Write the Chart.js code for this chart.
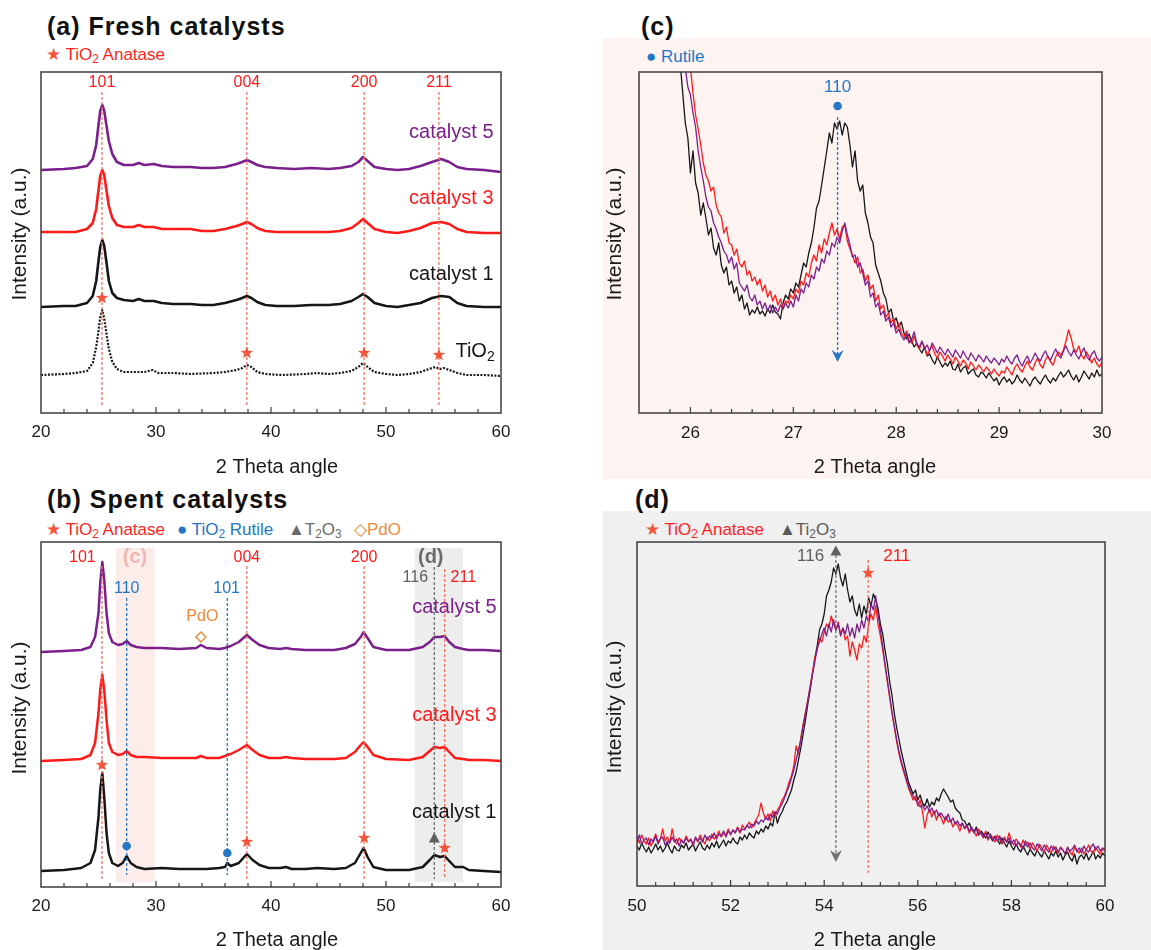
<!DOCTYPE html>
<html>
<head>
<meta charset="utf-8">
<script src="https://cdn.jsdelivr.net/npm/chart.js@4.4.1/dist/chart.umd.min.js"></script>
<style>
  body { margin: 0; width: 1151px; height: 950px; background: #fff; position: relative; overflow: hidden;
         font-family: "Liberation Sans", Arial, Helvetica, sans-serif; }
  .abs { position: absolute; white-space: nowrap; }
  canvas { position: absolute; }
  .head { font-weight: bold; font-size: 25px; letter-spacing: 1px; line-height: 28px; color: #111; }
  .key { font-size: 17px; line-height: 20px; }
  .sym { font-size: 17px; }
  sub { font-size: 0.7em; vertical-align: -0.25em; line-height: 0; }
</style>
</head>
<body>
<div class="abs" style="left:603px;top:38px;width:548px;height:441px;background:#fdf3f1"></div>
<div class="abs" style="left:603px;top:511px;width:548px;height:439px;background:#f0f0f0"></div>

<div class="abs head" style="left:47px;top:12px">(a) Fresh catalysts</div>
<div class="abs key" style="left:46px;top:45px;color:#ff1f1f"><span class="sym" style="color:#f4553b">★</span> TiO<sub>2</sub> Anatase</div>

<div class="abs head" style="left:47px;top:485px">(b) Spent catalysts</div>
<div class="abs key" style="left:46px;top:520px;color:#ff1f1f"><span class="sym" style="color:#f4553b">★</span> TiO<sub>2</sub> Anatase</div>
<div class="abs key" style="left:177px;top:520px;color:#2377c6"><span class="sym">●</span> TiO<sub>2</sub> Rutile</div>
<div class="abs key" style="left:288px;top:520px;color:#6a6a6a"><span class="sym">▲</span>T<sub>2</sub>O<sub>3</sub></div>
<div class="abs key" style="left:354px;top:520px;color:#ef8a3c"><span class="sym">◇</span>PdO</div>

<div class="abs head" style="left:641px;top:12px">(c)</div>
<div class="abs key" style="left:646px;top:47px;color:#2377c6"><span class="sym">●</span> Rutile</div>

<div class="abs head" style="left:635px;top:485px">(d)</div>
<div class="abs key" style="left:645px;top:520px;color:#ff1f1f"><span class="sym" style="color:#f4553b">★</span> TiO<sub>2</sub> Anatase</div>
<div class="abs key" style="left:779px;top:520px;color:#5a5a5a"><span class="sym">▲</span>Ti<sub>2</sub>O<sub>3</sub></div>

<canvas id="xrdFresh" width="560" height="420" style="left:0;top:60px"></canvas>
<canvas id="xrdSpent" width="560" height="470" style="left:0;top:480px"></canvas>
<canvas id="xrdRutile" width="548" height="441" style="left:603px;top:38px"></canvas>
<canvas id="xrdTi2O3" width="548" height="439" style="left:603px;top:511px"></canvas>

<script>
const FONT = '"Liberation Sans", Arial, Helvetica, sans-serif'

// ---- (a) fresh catalysts, stacked patterns (a.u.) ----
const FRESH_2THETA = [20, 22, 23, 24, 24.5, 24.8, 25.0, 25.15, 25.33, 25.5, 25.7, 25.9, 26.2, 26.6, 27.2, 28.0, 28.5, 29.0, 29.8, 30.5, 31.5, 33.0, 34.0, 35.0, 36.0, 37.0, 37.5, 37.9, 38.3, 38.8, 39.5, 40.5, 42.0, 43.5, 45.0, 46.0, 47.0, 47.6, 48.0, 48.4, 49.0, 50.0, 51.0, 52.0, 53.0, 54.0, 54.8, 55.5, 56.2, 57.0, 58.5, 60.0]
const FRESH_CAT5 = [243, 244, 245, 247, 254, 268, 288, 302, 308, 302, 287, 272, 259, 251, 248, 248, 250, 248, 249, 247, 246, 246, 245, 245, 246, 249, 251, 253, 251, 248, 246, 245, 244, 245, 244, 245, 247, 251, 256, 252, 246, 244, 243, 244, 247, 251, 254, 251, 246, 244, 243, 241]
const FRESH_CAT3 = [181, 181, 181, 184, 190, 204, 223, 237, 243, 238, 222, 207, 195, 188, 186, 186, 188, 186, 186, 184, 184, 184, 182, 182, 184, 187, 189, 191, 189, 185, 182, 181, 181, 181, 181, 182, 185, 190, 194, 190, 184, 181, 180, 182, 185, 190, 191, 189, 184, 181, 180, 180]
const FRESH_CAT1 = [106, 107, 107, 110, 117, 132, 152, 166, 173, 167, 150, 132, 120, 115, 113, 112, 114, 112, 112, 110, 109, 109, 108, 108, 110, 113, 115, 117, 115, 111, 108, 107, 107, 108, 108, 109, 112, 116, 119, 116, 110, 107, 106, 108, 110, 115, 117, 116, 110, 107, 106, 106]
const TIO2_2THETA = [20, 22, 23, 24, 24.5, 24.8, 25.0, 25.15, 25.33, 25.5, 25.7, 25.9, 26.2, 26.6, 27.2, 28.0, 29.0, 29.7, 30.2, 31.5, 33.0, 35.0, 36.0, 37.0, 37.5, 37.9, 38.3, 38.8, 39.5, 41.0, 43.0, 44.0, 45.0, 46.0, 47.0, 47.6, 48.0, 48.4, 49.0, 50.0, 51.0, 52.0, 53.0, 54.0, 54.3, 54.7, 55.0, 55.5, 56.2, 57.0, 58.5, 60.0]
const TIO2_BARE = [38, 39, 40, 42, 50, 66, 82, 96, 103, 94, 79, 64, 51, 44, 41, 41, 41, 43, 40, 40, 39, 40, 41, 43, 45, 48, 46, 41, 39, 38, 39, 40, 39, 40, 42, 46, 50, 46, 41, 39, 38, 39, 41, 45, 46, 44, 45, 43, 40, 38, 38, 37]
const FRESH_PEAKS = [25.3, 37.9, 48.1, 54.6]
const FRESH_HKL = ['101', '004', '200', '211']

// ---- (b) spent catalysts ----
const SPENT_2THETA = [20, 22, 23.5, 24.3, 24.7, 25.0, 25.15, 25.33, 25.5, 25.7, 25.9, 26.2, 26.7, 27.1, 27.45, 27.8, 28.3, 29.0, 30.5, 32.0, 33.5, 33.9, 34.4, 35.5, 36.0, 36.2, 36.5, 37.2, 37.9, 38.4, 39.0, 39.8, 40.8, 41.3, 41.8, 43.0, 44.0, 45.5, 46.5, 47.3, 47.8, 48.05, 48.4, 48.9, 50.0, 52.0, 53.2, 53.8, 54.2, 54.7, 55.1, 55.5, 56.0, 56.7, 57.2, 58.5, 60.0]
const SPENT_CAT5 = [235, 236, 237, 240, 250, 274, 304, 325, 307, 274, 254, 245, 242, 243, 246, 242, 240, 239, 239, 238, 239, 242, 239, 238, 239, 240, 241, 245, 252, 247, 242, 239, 238, 239, 238, 237, 237, 237, 239, 243, 250, 255, 249, 240, 237, 237, 240, 245, 250, 250, 251, 245, 240, 238, 237, 237, 236]
const SPENT_CAT3 = [126, 127, 128, 132, 144, 174, 197, 212, 197, 167, 144, 135, 132, 133, 136, 132, 130, 130, 129, 129, 129, 131, 129, 129, 131, 132, 133, 137, 142, 137, 132, 129, 129, 130, 129, 128, 128, 128, 129, 135, 142, 145, 140, 132, 128, 127, 130, 136, 140, 139, 140, 135, 129, 128, 127, 127, 126]
const SPENT_CAT1 = [16, 17, 19, 24, 37, 70, 97, 114, 90, 54, 34, 24, 21, 24, 31, 24, 20, 18, 19, 18, 18, 18, 18, 19, 20, 24, 21, 24, 33, 27, 22, 19, 19, 20, 18, 18, 19, 18, 19, 24, 34, 39, 30, 20, 17, 17, 20, 27, 32, 30, 31, 26, 20, 20, 17, 16, 15]
const ANATASE_PEAKS = [25.3, 37.9, 48.1, 55.1]
const RUTILE_PEAKS = [27.45, 36.2]
const TI2O3_PEAK = 54.2
const PDO_PEAK = 33.9

// ---- (c) rutile (110) window, 25.8-30.0 deg sampled every 0.025 ----
const RUTILE_START = 25.8
const RUTILE_STEP = 0.025
const RUTILE_CAT1 = [500, 470, 440, 390, 350, 320, 290, 275,
  240, 262, 230, 220, 198, 210, 195, 178, 185, 165, 158, 170, 148, 140, 146, 128, 132, 120, 126, 112, 118, 104, 110, 98, 103, 100, 106, 99, 102, 97, 104, 100, 108, 101, 99, 94, 110, 118, 114, 124,
  120, 130, 126, 138, 150, 146, 160, 170, 185, 205, 212, 228, 245, 262, 280, 270, 290, 284, 292, 278, 290, 286, 268, 246, 262, 232, 222, 228, 200, 190, 176, 170, 148, 140, 132, 120, 114, 100, 104, 92,
  95, 86, 91, 80, 74, 79, 72, 66, 70, 64, 60, 66, 57, 59, 53, 49, 56, 51, 46, 50, 47, 52, 44, 43, 49, 41, 45, 47, 39, 42, 44, 38, 36, 41, 39, 35, 40, 36, 32, 35,
  28, 33, 36, 31, 34, 29, 32, 38, 33, 30, 35, 31, 27, 33, 36, 32, 29, 34, 38, 33, 30, 35, 32, 37, 41, 36, 39, 43, 37, 33, 38, 31, 36, 42, 38, 34, 40, 36, 43, 37,
  39]
const RUTILE_CAT3 = [560, 530, 500, 470, 440, 420, 395, 370,
  345, 320, 298, 284, 268, 250, 238, 232, 222, 226, 208, 200, 196, 180, 186, 170, 168, 158, 164, 150, 146, 152, 138, 142, 132, 136, 128, 134, 122, 128, 116, 122, 112, 118, 108, 114, 104, 112, 110, 118,
  114, 124, 120, 132, 128, 140, 136, 150, 158, 152, 168, 160, 174, 168, 180, 190, 178, 184, 174, 186, 188, 172, 164, 158, 150, 156, 140, 144, 132, 138, 124, 128, 112, 118, 104, 108, 96, 100, 90, 94,
  84, 90, 80, 76, 82, 73, 70, 77, 68, 64, 71, 66, 58, 63, 67, 59, 55, 61, 57, 52, 58, 54, 49, 56, 52, 47, 53, 50, 44, 51, 47, 43, 48, 45, 41, 46, 43, 39, 44, 40,
  37, 42, 40, 46, 42, 38, 45, 49, 44, 41, 47, 52, 46, 43, 50, 55, 48, 45, 53, 57, 51, 48, 56, 61, 58, 63, 72, 83, 75, 64, 61, 67, 58, 54, 61, 56, 50, 55, 49, 46,
  51]
const RUTILE_CAT5 = [520, 490, 460, 430, 400, 372, 345, 326,
  318, 300, 286, 262, 246, 232, 216, 206, 202, 190, 184, 176, 170, 162, 158, 150, 156, 144, 150, 130, 126, 122, 128, 116, 112, 118, 108, 112, 104, 110, 102, 108, 100, 106, 101, 108, 104, 110, 105, 112,
  106, 118, 112, 124, 120, 130, 126, 138, 134, 146, 142, 154, 150, 162, 158, 170, 166, 176, 170, 182, 190, 178, 168, 156, 158, 146, 150, 140, 128, 132, 116, 120, 106, 110, 98, 102, 92, 96, 86, 90,
  80, 84, 77, 73, 79, 70, 74, 81, 69, 66, 72, 64, 68, 62, 70, 65, 60, 66, 62, 58, 64, 60, 56, 63, 59, 55, 62, 57, 53, 60, 56, 52, 58, 55, 51, 57, 53, 50, 55, 52,
  48, 54, 51, 57, 52, 49, 55, 58, 51, 47, 53, 57, 50, 54, 60, 55, 52, 58, 62, 56, 53, 59, 64, 58, 55, 62, 67, 61, 57, 63, 58, 54, 60, 65, 57, 53, 59, 62, 55, 52,
  56]
const RUTILE_110 = 27.43

// ---- (d) Ti2O3 (116) / anatase (211) window, 50-60 deg sampled every 0.05 ----
const TI_START = 50
const TI_STEP = 0.05
const TI_CAT1 = [40, 36, 43, 38, 34, 39, 33, 37, 42, 36, 40, 34, 38, 43, 37, 33, 40, 36, 35, 41,
  38, 43, 36, 39, 42, 35, 40, 44, 38, 36, 41, 37, 43, 39, 45, 38, 42, 46, 40, 45,
  43, 48, 44, 42, 49, 46, 51, 47, 53, 50, 48, 55, 52, 57, 54, 60, 57, 63, 60, 74,
  63, 70, 74, 80, 84, 90, 96, 106, 114, 126, 138, 152, 166, 182, 196, 212, 228, 240, 256, 262,
  272, 290, 296, 304, 318, 312, 322, 308, 300, 312, 296, 284, 290, 276, 270, 282, 268, 280, 272, 288,
  280, 292, 286, 278, 262, 252, 236, 222, 204, 190, 172, 158, 146, 134, 124, 114, 104, 98, 92, 96,
  86, 91, 83, 80, 87, 79, 84, 81, 88, 85, 92, 97, 93, 89, 84, 86, 78, 75, 73, 66,
  65, 60, 63, 57, 54, 59, 51, 55, 52, 48, 54, 49, 45, 50, 46, 42, 48, 43, 39, 45,
  40, 36, 42, 37, 34, 40, 35, 31, 37, 33, 30, 36, 32, 29, 35, 31, 27, 33, 30, 35,
  29, 33, 26, 31, 34, 28, 25, 32, 22, 29, 31, 27, 33, 26, 30, 35, 27, 31, 28, 33,
  30]
const TI_CAT3 = [49, 43, 51, 45, 42, 48, 40, 46, 52, 44, 47, 57, 45, 49, 43, 57, 46, 42, 48, 45,
  43, 50, 45, 47, 41, 48, 44, 51, 46, 42, 49, 45, 52, 47, 50, 55, 49, 53, 51, 57,
  51, 56, 54, 59, 53, 61, 57, 60, 64, 58, 62, 67, 71, 83, 73, 67, 72, 65, 75, 70,
  76, 80, 86, 90, 96, 104, 110, 120, 140, 132, 148, 162, 174, 186, 200, 214, 228, 236, 248, 244,
  254, 262, 258, 270, 262, 256, 264, 252, 258, 246, 250, 230, 244, 236, 226, 242, 238, 250, 244, 262,
  272, 266, 280, 262, 250, 236, 220, 204, 188, 172, 158, 144, 132, 122, 114, 106, 98, 92, 86, 90,
  80, 86, 74, 58, 71, 77, 69, 75, 66, 73, 68, 62, 70, 64, 66, 59, 64, 61, 55, 63,
  57, 60, 53, 58, 55, 50, 57, 52, 48, 55, 46, 51, 49, 44, 51, 46, 42, 49, 44, 53,
  45, 41, 47, 43, 39, 46, 40, 44, 37, 43, 39, 35, 42, 38, 34, 41, 37, 33, 40, 36,
  33, 39, 36, 32, 38, 34, 31, 39, 36, 33, 38, 32, 36, 41, 35, 33, 39, 35, 32, 37,
  35]
const TI_CAT5 = [44, 51, 42, 46, 48, 41, 47, 44, 50, 42, 47, 49, 41, 45, 43, 49, 44, 47, 40, 46,
  43, 48, 44, 46, 41, 49, 45, 48, 44, 51, 46, 50, 48, 53, 47, 52, 50, 55, 49, 55,
  52, 56, 53, 58, 54, 57, 56, 61, 58, 62, 60, 65, 62, 66, 64, 69, 66, 72, 69, 74,
  72, 78, 82, 88, 94, 100, 108, 116, 126, 136, 146, 160, 172, 186, 198, 212, 224, 238, 244, 252,
  258, 250, 262, 254, 266, 256, 262, 250, 258, 252, 262, 250, 258, 248, 262, 254, 266, 258, 270, 264,
  282, 276, 290, 272, 256, 240, 222, 206, 190, 174, 160, 146, 134, 124, 116, 108, 100, 94, 90, 86,
  84, 79, 81, 76, 80, 74, 78, 72, 76, 70, 73, 69, 66, 72, 64, 68, 62, 65, 60, 63,
  58, 61, 55, 59, 53, 57, 51, 54, 49, 53, 47, 52, 46, 49, 45, 50, 43, 47, 44, 48,
  42, 46, 40, 44, 41, 37, 45, 39, 43, 38, 36, 42, 39, 35, 41, 37, 34, 40, 36, 39,
  34, 38, 36, 32, 39, 35, 37, 41, 34, 38, 33, 40, 36, 34, 39, 42, 36, 40, 35, 38,
  37]
const TI2O3_116 = 54.25
const ANATASE_211 = 54.94

const BLACK = '#161616'
const RED = '#ff1a1a'
const PURPLE = '#7b1f8d'
const STAR = '#f4553b'
const RED_DASH = '#f3725f'
const BLUE = '#2377c6'
const GRAY = '#5f5f5f'
const ORANGE = '#ef8a3c'

const pairs = (xs, ys) => ys.map((y, i) => ({ x: xs[i], y }))
const sampled = (x0, step, ys) => ys.map((y, i) => ({ x: +(x0 + i * step).toFixed(3), y }))
const isMajor = (v, major) => Math.abs(v / major - Math.round(v / major)) < 1e-6

// decorations per canvas: bands, reference lines, markers and labels in data units
const DECOR = {}

DECOR.xrdFresh = {
  xTitle: [277, 407], yTitle: [20, 174],
  vlines: FRESH_PEAKS.map((p) => ({ x: p, from: 6, to: 321, color: RED_DASH })),
  markers: [
    { shape: 'star', x: FRESH_PEAKS[0], y: 115, color: STAR },
    { shape: 'star', x: FRESH_PEAKS[1], y: 60, color: STAR },
    { shape: 'star', x: FRESH_PEAKS[2], y: 60, color: STAR },
    { shape: 'star', x: FRESH_PEAKS[3], y: 58, color: STAR },
  ],
  labels: [
    ...FRESH_PEAKS.map((p, i) => ({ x: p, y: 330, text: FRESH_HKL[i], color: RED, size: 16 })),
    { x: 59.35, y: 281, text: 'catalyst 5', color: PURPLE, size: 20, align: 'right' },
    { x: 59.35, y: 215, text: 'catalyst 3', color: RED, size: 20, align: 'right' },
    { x: 59.35, y: 139, text: 'catalyst 1', color: BLACK, size: 20, align: 'right' },
    { x: 59.45, y: 62, text: [['TiO', false], ['2', true]], color: BLACK, size: 20, align: 'right' },
  ],
}

DECOR.xrdSpent = {
  xTitle: [277, 460], yTitle: [20, 228],
  bands: [
    { from: 26.5, to: 29.9, bottom: 5, top: 339, color: '#fcedea' },
    { from: 52.5, to: 56.7, bottom: 5, top: 339, color: '#ededed' },
  ],
  vlines: [
    { x: ANATASE_PEAKS[0], from: 8, to: 321, color: RED_DASH },
    { x: RUTILE_PEAKS[0], from: 12, to: 289, color: BLUE },
    { x: RUTILE_PEAKS[1], from: 12, to: 289, color: BLUE },
    { x: ANATASE_PEAKS[1], from: 8, to: 321, color: RED_DASH },
    { x: ANATASE_PEAKS[2], from: 8, to: 321, color: RED_DASH },
    { x: TI2O3_PEAK, from: 8, to: 320, color: '#6e6e6e' },
    { x: ANATASE_PEAKS[3], from: 8, to: 318, color: RED_DASH },
  ],
  markers: [
    { shape: 'star', x: ANATASE_PEAKS[0], y: 122, color: STAR },
    { shape: 'dot', x: RUTILE_PEAKS[0], y: 41, color: BLUE },
    { shape: 'dot', x: RUTILE_PEAKS[1], y: 34, color: BLUE },
    { shape: 'star', x: ANATASE_PEAKS[1], y: 45, color: STAR },
    { shape: 'star', x: ANATASE_PEAKS[2], y: 49, color: STAR },
    { shape: 'tri', x: TI2O3_PEAK, y: 49, color: GRAY },
    { shape: 'star', x: ANATASE_PEAKS[3], y: 39, color: STAR },
    { shape: 'diamond', x: PDO_PEAK, y: 250, color: ORANGE },
  ],
  labels: [
    { x: 28.17, y: 330, text: '(c)', color: '#f2b6ae', size: 20, bold: true },
    { x: 53.89, y: 330, text: '(d)', color: '#6b6b6b', size: 20, bold: true },
    { x: 23.6, y: 329, text: '101', color: RED, size: 16 },
    { x: ANATASE_PEAKS[1], y: 329, text: '004', color: RED, size: 16 },
    { x: ANATASE_PEAKS[2], y: 329, text: '200', color: RED, size: 16 },
    { x: 56.72, y: 309, text: '211', color: RED, size: 16 },
    { x: 52.55, y: 309, text: '116', color: GRAY, size: 16 },
    { x: RUTILE_PEAKS[0], y: 298, text: '110', color: BLUE, size: 16 },
    { x: 36.14, y: 298, text: '101', color: BLUE, size: 16 },
    { x: 34.03, y: 270, text: 'PdO', color: ORANGE, size: 16 },
    { x: 59.62, y: 280, text: 'catalyst 5', color: PURPLE, size: 20, align: 'right' },
    { x: 59.62, y: 172, text: 'catalyst 3', color: RED, size: 20, align: 'right' },
    { x: 59.6, y: 75, text: 'catalyst 1', color: BLACK, size: 20, align: 'right' },
  ],
}

DECOR.xrdRutile = {
  xTitle: [272, 429], yTitle: [12, 196],
  vlines: [{ x: RUTILE_110, from: 51, to: 296, color: BLUE, arrow: true }],
  markers: [{ shape: 'dot', x: RUTILE_110, y: 307, color: BLUE }],
  labels: [{ x: RUTILE_110, y: 326, text: '110', color: BLUE, size: 17 }],
}

DECOR.xrdTi2O3 = {
  xTitle: [272, 429], yTitle: [12, 196],
  vlines: [
    { x: TI2O3_116, from: 24, to: 331, color: '#707070', arrow: true },
    { x: ANATASE_211, from: 11, to: 326, color: RED_DASH },
  ],
  markers: [
    { shape: 'tri', x: TI2O3_116, y: 335, color: GRAY },
    { shape: 'star', x: ANATASE_211, y: 313, color: STAR },
  ],
  labels: [
    { x: 53.71, y: 330, text: '116', color: GRAY, size: 17 },
    { x: 55.55, y: 330, text: '211', color: RED, size: 17 },
  ],
}

function drawLabel(ctx, t, px, py) {
  const weight = t.bold ? 'bold ' : ''
  const size = t.size || 17
  const parts = typeof t.text === 'string' ? [[t.text, false]] : t.text
  const fontFor = (sub) => `${weight}${sub ? Math.round(size * 0.7) : size}px ${FONT}`
  const widths = parts.map(([s, sub]) => {
    ctx.font = fontFor(sub)
    return ctx.measureText(s).width
  })
  const total = widths.reduce((a, b) => a + b, 0)
  let cx = t.align === 'right' ? px - total : t.align === 'left' ? px : px - total / 2
  ctx.fillStyle = t.color
  ctx.textAlign = 'left'
  ctx.textBaseline = 'middle'
  parts.forEach(([s, sub], i) => {
    ctx.font = fontFor(sub)
    ctx.fillText(s, cx, sub ? py + size * 0.3 : py)
    cx += widths[i]
  })
}

function drawMarker(ctx, m, px, py) {
  ctx.fillStyle = m.color
  ctx.strokeStyle = m.color
  ctx.beginPath()
  if (m.shape === 'star') {
    for (let i = 0; i < 10; i++) {
      const r = i % 2 ? 2.7 : 6.5
      const a = -Math.PI / 2 + (i * Math.PI) / 5
      ctx.lineTo(px + r * Math.cos(a), py + r * Math.sin(a))
    }
  } else if (m.shape === 'dot') {
    ctx.arc(px, py, 4.3, 0, Math.PI * 2)
  } else if (m.shape === 'tri') {
    ctx.moveTo(px, py - 5.5)
    ctx.lineTo(px + 5.5, py + 4.5)
    ctx.lineTo(px - 5.5, py + 4.5)
  } else if (m.shape === 'diamond') {
    ctx.moveTo(px, py - 5)
    ctx.lineTo(px + 5, py)
    ctx.lineTo(px, py + 5)
    ctx.lineTo(px - 5, py)
    ctx.closePath()
    ctx.lineWidth = 1.4
    ctx.stroke()
    return
  }
  ctx.closePath()
  ctx.fill()
}

function arrowHead(ctx, px, py, color) {
  ctx.fillStyle = color
  ctx.beginPath()
  ctx.moveTo(px, py)
  ctx.lineTo(px - 6, py - 12)
  ctx.lineTo(px, py - 8)
  ctx.lineTo(px + 6, py - 12)
  ctx.closePath()
  ctx.fill()
}

const panelDecor = {
  id: 'panelDecor',
  beforeDatasetsDraw(chart) {
    const d = DECOR[chart.canvas.id]
    if (!d || !d.bands) return
    const { ctx, scales: { x, y } } = chart
    ctx.save()
    d.bands.forEach((b) => {
      const x0 = x.getPixelForValue(b.from)
      const x1 = x.getPixelForValue(b.to)
      const y0 = y.getPixelForValue(b.top)
      const y1 = y.getPixelForValue(b.bottom)
      ctx.fillStyle = b.color
      ctx.fillRect(x0, y0, x1 - x0, y1 - y0)
    })
    ctx.restore()
  },
  afterDatasetsDraw(chart) {
    const d = DECOR[chart.canvas.id]
    if (!d) return
    const { ctx, scales: { x, y } } = chart
    ctx.save()
    ;(d.vlines || []).forEach((l) => {
      const px = x.getPixelForValue(l.x)
      const yBottom = y.getPixelForValue(l.from)
      const yTop = y.getPixelForValue(l.to)
      ctx.strokeStyle = l.color
      ctx.lineWidth = 1.3
      ctx.setLineDash([3, 2])
      ctx.beginPath()
      ctx.moveTo(px, yTop)
      ctx.lineTo(px, l.arrow ? yBottom - 6 : yBottom)
      ctx.stroke()
      ctx.setLineDash([])
      if (l.arrow) arrowHead(ctx, px, yBottom, l.color)
    })
    ;(d.markers || []).forEach((m) => drawMarker(ctx, m, x.getPixelForValue(m.x), y.getPixelForValue(m.y)))
    ;(d.labels || []).forEach((t) => drawLabel(ctx, t, x.getPixelForValue(t.x), y.getPixelForValue(t.y)))
    ctx.restore()
  },
  afterDraw(chart) {
    const d = DECOR[chart.canvas.id]
    if (!d) return
    const { ctx, chartArea: a, scales: { x } } = chart
    ctx.save()
    ctx.strokeStyle = '#3c3c3c'
    ctx.lineWidth = 1.5
    ctx.strokeRect(a.left, a.top, a.right - a.left, a.bottom - a.top)
    // inward tick marks on the bottom axis
    ctx.lineWidth = 1.2
    x.ticks.forEach((t) => {
      if (t.value <= x.min + 1e-6 || t.value >= x.max - 1e-6) return
      const px = x.getPixelForValue(t.value)
      const len = isMajor(t.value, chart.options.scales.x.ticks.major_step) ? 6 : 4
      ctx.beginPath()
      ctx.moveTo(px, a.bottom)
      ctx.lineTo(px, a.bottom - len)
      ctx.stroke()
    })
    ctx.fillStyle = '#1a1a1a'
    ctx.font = `20px ${FONT}`
    ctx.textAlign = 'center'
    ctx.textBaseline = 'middle'
    ctx.fillText('2 Theta angle', d.xTitle[0], d.xTitle[1])
    ctx.font = `21px ${FONT}`
    ctx.translate(d.yTitle[0], d.yTitle[1])
    ctx.rotate(-Math.PI / 2)
    ctx.fillText('Intensity (a.u.)', 0, 0)
    ctx.restore()
  },
}

Chart.register(panelDecor)

function xrdChart(id, datasets, axis, box) {
  return new Chart(document.getElementById(id), {
    type: 'line',
    data: { datasets },
    options: {
      responsive: false,
      animation: false,
      events: [],
      layout: { padding: { left: box.left, top: box.top, right: box.right, bottom: 0 } },
      elements: { point: { radius: 0 }, line: { tension: 0, borderJoinStyle: 'round' } },
      plugins: { legend: { display: false }, tooltip: { enabled: false } },
      scales: {
        x: {
          type: 'linear',
          min: axis.min,
          max: axis.max,
          grid: { display: false, drawTicks: false },
          border: { display: false },
          ticks: {
            stepSize: axis.minor,
            major_step: axis.major,
            autoSkip: false,
            maxRotation: 0,
            padding: box.tickPad,
            color: '#1a1a1a',
            font: { family: FONT, size: 17 },
            callback: (v) => (isMajor(v, axis.major) ? String(Math.round(v)) : ''),
          },
          afterFit: (scale) => {
            scale.height = box.axisHeight
          },
        },
        y: { display: false, min: 0, max: axis.yMax },
      },
    },
  })
}

const line = (label, data, color, width, extra) => ({
  label, data, borderColor: color, borderWidth: width, ...extra,
})

xrdChart('xrdFresh', [
  line('catalyst 5', pairs(FRESH_2THETA, FRESH_CAT5), PURPLE, 2.6),
  line('catalyst 3', pairs(FRESH_2THETA, FRESH_CAT3), RED, 2.6),
  line('catalyst 1', pairs(FRESH_2THETA, FRESH_CAT1), BLACK, 2.6),
  line('TiO2', pairs(TIO2_2THETA, TIO2_BARE), BLACK, 2.2, { borderDash: [2, 1.5] }),
], { min: 20, max: 60, minor: 2, major: 10, yMax: 341 },
{ left: 41, top: 12, right: 59, axisHeight: 67, tickPad: 9.5 })

xrdChart('xrdSpent', [
  line('catalyst 5', pairs(SPENT_2THETA, SPENT_CAT5), PURPLE, 2.5),
  line('catalyst 3', pairs(SPENT_2THETA, SPENT_CAT3), RED, 2.5),
  line('catalyst 1', pairs(SPENT_2THETA, SPENT_CAT1), BLACK, 2.5),
], { min: 20, max: 60, minor: 2, major: 10, yMax: 345 },
{ left: 41, top: 62, right: 59, axisHeight: 63, tickPad: 9.5 })

xrdChart('xrdRutile', [
  line('catalyst 5', sampled(RUTILE_START, RUTILE_STEP, RUTILE_CAT5), PURPLE, 1.3),
  line('catalyst 3', sampled(RUTILE_START, RUTILE_STEP, RUTILE_CAT3), RED, 1.3),
  line('catalyst 1', sampled(RUTILE_START, RUTILE_STEP, RUTILE_CAT1), BLACK, 1.3),
], { min: 25.5, max: 30, minor: 0.2, major: 1, yMax: 341 },
{ left: 36, top: 34, right: 49, axisHeight: 66, tickPad: 10.5 })

xrdChart('xrdTi2O3', [
  line('catalyst 5', sampled(TI_START, TI_STEP, TI_CAT5), PURPLE, 1.3),
  line('catalyst 3', sampled(TI_START, TI_STEP, TI_CAT3), RED, 1.3),
  line('catalyst 1', sampled(TI_START, TI_STEP, TI_CAT1), BLACK, 1.3),
], { min: 50, max: 60, minor: 0.4, major: 2, yMax: 344 },
{ left: 34, top: 31, right: 46, axisHeight: 64, tickPad: 10.5 })
</script>
</body>
</html>
